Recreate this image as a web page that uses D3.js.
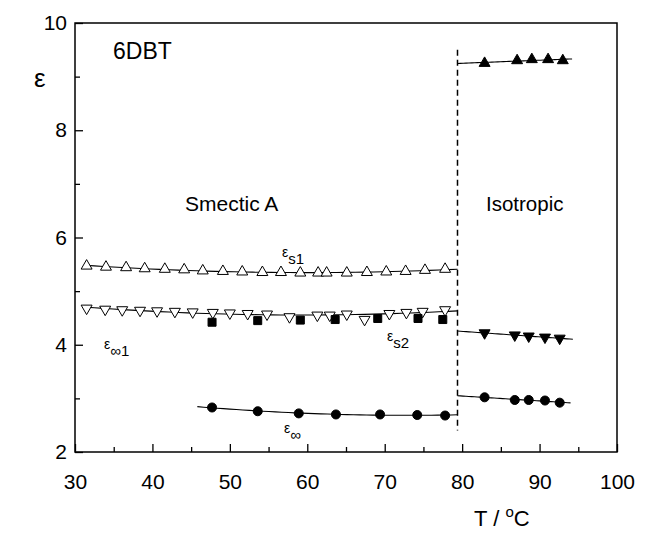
<!DOCTYPE html>
<html>
<head>
<meta charset="utf-8">
<script src="https://d3js.org/d3.v7.min.js"></script>
<style>
body { margin: 0; background: #fff; }
text { font-family: "Liberation Sans", Arial, sans-serif; fill: #000; }
</style>
</head>
<body>
<svg id="chart" width="646" height="534"></svg>
<script>
// smectic A phase, open up triangles (eps s1)
var smT1 = [31.5, 34.0, 36.6, 39.0, 41.6, 44.1, 46.5, 49.1, 51.6, 54.2, 56.6, 59.1, 61.4, 62.5, 65.1, 67.7, 70.2, 72.7, 75.2, 77.8];
var epsS1 = [5.47, 5.45, 5.44, 5.42, 5.41, 5.40, 5.38, 5.37, 5.36, 5.35, 5.35, 5.34, 5.34, 5.34, 5.34, 5.35, 5.36, 5.37, 5.39, 5.41];
// open down triangles (eps inf1)
var smT2 = [31.5, 33.9, 36.1, 38.4, 40.6, 42.9, 45.2, 47.8, 50.0, 52.3, 54.8, 57.7, 61.3, 62.9, 65.1, 67.4, 70.6, 72.8, 74.9, 77.8];
var epsInf1 = [4.68, 4.66, 4.65, 4.64, 4.63, 4.62, 4.61, 4.60, 4.59, 4.58, 4.57, 4.52, 4.55, 4.55, 4.57, 4.47, 4.58, 4.60, 4.62, 4.65];
// filled squares (eps s2) and filled circles (eps inf)
var smT3 = [47.7, 53.6, 59.1, 63.6, 69.1, 74.3, 77.5];
var epsS2 = [4.42, 4.45, 4.46, 4.47, 4.49, 4.49, 4.47];
var smT4 = [47.7, 53.6, 58.9, 63.7, 69.4, 74.2, 77.8];
var epsInf = [2.83, 2.76, 2.72, 2.70, 2.70, 2.69, 2.68];
// isotropic phase
var isoT1 = [82.9, 87.1, 89.0, 91.1, 93.0];
var isoS1 = [9.25, 9.30, 9.32, 9.32, 9.30];
var isoT2 = [82.9, 86.8, 88.6, 90.7, 92.6];
var isoS2 = [4.22, 4.18, 4.16, 4.14, 4.12];
var isoInf = [3.02, 2.97, 2.97, 2.96, 2.92];

var xTicks = [30, 40, 50, 60, 70, 80, 90, 100];
var xMinor = [35, 45, 55, 65, 75, 85, 95];
var yTicks = [2, 4, 6, 8, 10];
var yMinor = [3, 5, 7, 9];
var clearingT = 79.4;

var svg = d3.select("#chart");
var x = d3.scaleLinear().domain([30, 100]).range([75, 617]);
var y = d3.scaleLinear().domain([2, 10]).range([452, 23]);

// least squares polynomial fit
function polyfit(xs, ys, deg) {
  var n = deg + 1, A = [], b = [];
  for (var i = 0; i < n; i++) {
    A.push([]);
    for (var j = 0; j < n; j++) A[i].push(d3.sum(xs, function (v) { return Math.pow(v, i + j); }));
    b.push(d3.sum(xs, function (v, k) { return ys[k] * Math.pow(v, i); }));
  }
  for (var c = 0; c < n; c++) {
    for (var r = c + 1; r < n; r++) {
      var f = A[r][c] / A[c][c];
      for (var k = c; k < n; k++) A[r][k] -= f * A[c][k];
      b[r] -= f * b[c];
    }
  }
  var coef = new Array(n).fill(0);
  for (var r2 = n - 1; r2 >= 0; r2--) {
    var s = b[r2];
    for (var k2 = r2 + 1; k2 < n; k2++) s -= A[r2][k2] * coef[k2];
    coef[r2] = s / A[r2][r2];
  }
  return function (t) { return d3.sum(coef, function (cf, p) { return cf * Math.pow(t, p); }); };
}

function fitLine(xs, ys, deg, t0, t1) {
  var xm = d3.mean(xs);
  var f = polyfit(xs.map(function (v) { return v - xm; }), ys, deg);
  var pts = d3.range(0, 41).map(function (i) { var t = t0 + (t1 - t0) * i / 40; return [t, f(t - xm)]; });
  svg.append("path")
    .attr("d", d3.line().x(function (d) { return x(d[0]); }).y(function (d) { return y(d[1]); })(pts))
    .attr("fill", "none").attr("stroke", "#000").attr("stroke-width", 1.1);
}

fitLine(smT1, epsS1, 2, 31.3, clearingT);
fitLine(smT2, epsInf1, 2, 31.3, clearingT);
fitLine(smT4, epsInf, 2, 45.8, clearingT);
fitLine(isoT1, isoS1, 1, clearingT, 94.2);
fitLine(isoT2, isoS2, 1, clearingT, 94.3);
fitLine(isoT2, isoInf, 1, clearingT, 94.0);

// phase transition
svg.append("line")
  .attr("x1", x(clearingT)).attr("x2", x(clearingT))
  .attr("y1", y(9.5)).attr("y2", y(2.4))
  .attr("stroke", "#000").attr("stroke-width", 1.5).attr("stroke-dasharray", "6,4");

function markers(xs, ys, type, rot, fill) {
  svg.append("g").selectAll("path").data(xs).enter().append("path")
    .attr("d", d3.symbol().type(type).size(type === d3.symbolTriangle ? 52 : 64))
    .attr("transform", function (d, i) { return "translate(" + x(d) + "," + y(ys[i]) + ") rotate(" + rot + ")"; })
    .attr("fill", fill).attr("stroke", "#000").attr("stroke-width", 1);
}

markers(smT1, epsS1, d3.symbolTriangle, 0, "#fff");
markers(smT2, epsInf1, d3.symbolTriangle, 180, "#fff");
markers(smT3, epsS2, d3.symbolSquare, 0, "#000");
markers(smT4, epsInf, d3.symbolCircle, 0, "#000");
markers(isoT1, isoS1, d3.symbolTriangle, 0, "#000");
markers(isoT2, isoS2, d3.symbolTriangle, 180, "#000");
markers(isoT2, isoInf, d3.symbolCircle, 0, "#000");

// frame and axes
svg.append("rect").attr("x", 75).attr("y", 23).attr("width", 542).attr("height", 429)
  .attr("fill", "none").attr("stroke", "#000").attr("stroke-width", 1.5);

svg.append("g").attr("transform", "translate(0,452)")
  .call(d3.axisBottom(x).tickValues(xTicks).tickSize(-8).tickPadding(22).tickFormat(d3.format("d")));
svg.append("g").attr("transform", "translate(0,452)")
  .call(d3.axisBottom(x).tickValues(xMinor).tickSize(-5).tickFormat(""));
svg.append("g").attr("transform", "translate(75,0)")
  .call(d3.axisLeft(y).tickValues(yTicks).tickSize(-8).tickPadding(8).tickFormat(d3.format("d")));
svg.append("g").attr("transform", "translate(75,0)")
  .call(d3.axisLeft(y).tickValues(yMinor).tickSize(-5).tickFormat(""));
svg.selectAll(".domain").remove();
svg.selectAll(".tick line").attr("stroke", "#000").attr("stroke-width", 1.3);
svg.selectAll(".tick text").style("font-size", "21px").style("font-family", "'Liberation Sans', Arial, sans-serif");

// texts
svg.append("text").attr("x", 113).attr("y", 59).style("font-size", "23px").text("6DBT");
svg.append("text").attr("x", 34).attr("y", 87).style("font-size", "26px").text("ε");
svg.append("text").attr("x", 185).attr("y", 211).style("font-size", "21px").text("Smectic A");
svg.append("text").attr("x", 486).attr("y", 211).style("font-size", "20.5px").text("Isotropic");
var xl = svg.append("text").attr("x", 474).attr("y", 526).style("font-size", "22px");
xl.append("tspan").text("T / ");
xl.append("tspan").attr("dy", -9).style("font-size", "15px").text("o");
xl.append("tspan").attr("dy", 9).text("C");

function epsLabel(px, py, sub) {
  var t = svg.append("text").attr("x", px).attr("y", py).style("font-size", "14px");
  t.append("tspan").text("ε");
  t.append("tspan").attr("dy", 7).style("font-size", "15px").text(sub);
}
epsLabel(282, 257, "s1");
epsLabel(387, 341, "s2");
epsLabel(104, 349, "∞1");
epsLabel(284, 433, "∞");
</script>
</body>
</html>
